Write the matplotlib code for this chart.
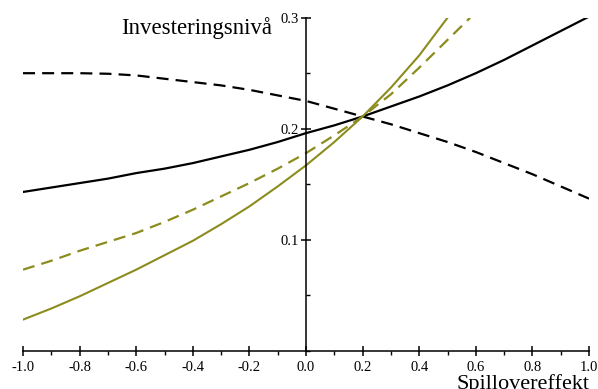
import matplotlib.pyplot as plt
from matplotlib.ticker import MultipleLocator, FuncFormatter

# spillover effect grid and investment levels for each case
spillover = [-1.0, -0.9, -0.8, -0.7, -0.6, -0.5, -0.4, -0.3, -0.2, -0.1, 0.0,
             0.1, 0.2, 0.3, 0.4, 0.5, 0.6, 0.7, 0.8, 0.9, 1.0]
inv_black_solid = [0.143, 0.147, 0.151, 0.155, 0.160, 0.164, 0.169, 0.175, 0.181, 0.188, 0.196,
                   0.203, 0.211, 0.220, 0.229, 0.239, 0.250, 0.262, 0.275, 0.288, 0.301]
inv_black_dashed = [0.250, 0.250, 0.250, 0.2495, 0.248, 0.245, 0.242, 0.239, 0.235, 0.230, 0.225,
                    0.218, 0.211, 0.204, 0.196, 0.188, 0.179, 0.169, 0.159, 0.148, 0.137]

spillover_olive_dashed = [-1.0, -0.9, -0.8, -0.7, -0.6, -0.5, -0.4, -0.3, -0.2, -0.1, 0.0,
                          0.1, 0.2, 0.3, 0.4, 0.5, 0.58]
inv_olive_dashed = [0.073, 0.081, 0.090, 0.098, 0.106, 0.116, 0.127, 0.139, 0.151, 0.164, 0.178,
                    0.194, 0.211, 0.231, 0.255, 0.280, 0.300]

spillover_olive_solid = [-1.0, -0.9, -0.8, -0.7, -0.6, -0.5, -0.4, -0.3, -0.2, -0.1, 0.0,
                         0.1, 0.2, 0.3, 0.4, 0.5]
inv_olive_solid = [0.028, 0.038, 0.049, 0.061, 0.073, 0.086, 0.099, 0.114, 0.130, 0.148, 0.167,
                   0.188, 0.211, 0.237, 0.266, 0.300]

olive = '#8c8c1e'
serif = ['Liberation Serif', 'DejaVu Serif']
dash = (5.4, 3.2)

fig = plt.figure(figsize=(5.98, 3.89), dpi=100)
ax = fig.add_axes([0.0385, 0.0985, 0.9465, 0.856])

ax.plot(spillover, inv_black_solid, color='black', lw=1.6)
ax.plot(spillover, inv_black_dashed, color='black', lw=1.6, dashes=dash)
ax.plot(spillover_olive_dashed, inv_olive_dashed, color=olive, lw=1.6, dashes=dash)
ax.plot(spillover_olive_solid, inv_olive_solid, color=olive, lw=1.5)

ax.set_xlim(-1.0, 1.0)
ax.set_ylim(0.0, 0.3)

# axes cross at the origin
for side in ['top', 'right']:
    ax.spines[side].set_visible(False)
ax.spines['left'].set_position(('data', 0.0))
ax.spines['bottom'].set_position(('data', 0.0))
ax.spines['left'].set_linewidth(1.1)
ax.spines['bottom'].set_linewidth(1.1)

ax.xaxis.set_major_locator(MultipleLocator(0.2))
ax.xaxis.set_minor_locator(MultipleLocator(0.1))
ax.yaxis.set_minor_locator(MultipleLocator(0.05))
ax.set_yticks([0.1, 0.2, 0.3])
ax.xaxis.set_major_formatter(FuncFormatter(lambda v, p: f'{v:.1f}'.replace('-0.0', '0.0')))
ax.yaxis.set_major_formatter(FuncFormatter(lambda v, p: f'{v:.1f}'))

ax.tick_params(axis='both', which='major', direction='inout', length=7, width=1.1,
               labelsize=10.5)
ax.tick_params(axis='x', which='major', pad=4)
ax.tick_params(axis='y', which='major', pad=2)
ax.tick_params(axis='x', which='minor', direction='out', length=3, width=1.0)
ax.tick_params(axis='y', which='minor', direction='in', length=3, width=1.0)
for lab in ax.get_xticklabels() + ax.get_yticklabels():
    lab.set_family(serif)

ax.text(-0.12, 0.2906, 'Investeringsnivå', family=serif, fontsize=16.5,
        ha='right', va='center')
fig.text(589 / 598, 1 - 374 / 389, 'Spillovereffekt', family=serif, fontsize=16,
         ha='right', va='top')

fig.savefig('out.png', dpi=100)
